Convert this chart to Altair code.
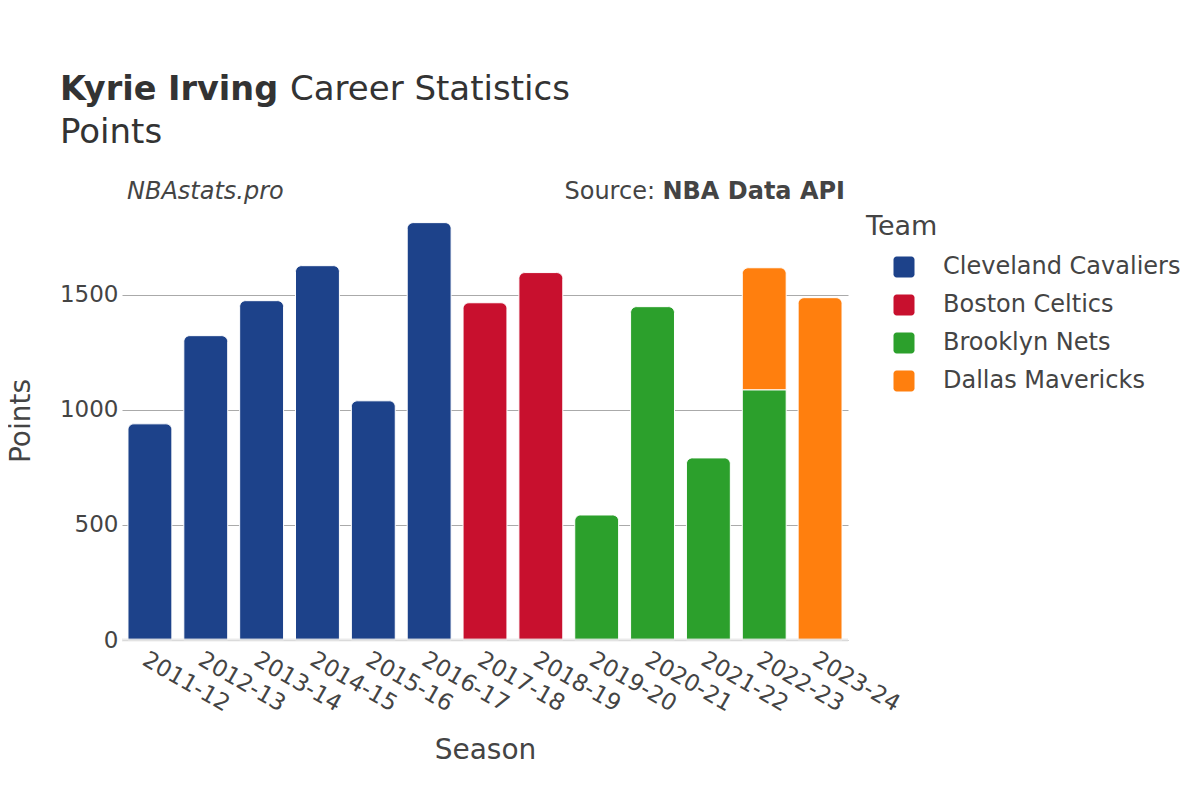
import altair as alt
import pandas as pd

seasons = ["2011-12", "2012-13", "2013-14", "2014-15", "2015-16", "2016-17", "2017-18",
           "2018-19", "2019-20", "2020-21", "2021-22", "2022-23", "2022-23", "2023-24"]
teams = ["Cleveland Cavaliers"] * 6 + ["Boston Celtics"] * 2 + ["Brooklyn Nets"] * 4 + ["Dallas Mavericks"] * 2
points = [939, 1322, 1474, 1626, 1039, 1813, 1465, 1596, 543, 1448, 791, 1087, 530, 1487]
stack_order = [0] * 12 + [1, 0]

team_names = ["Cleveland Cavaliers", "Boston Celtics", "Brooklyn Nets", "Dallas Mavericks"]
team_colors = ["#1d428a", "#c8102e", "#2ca02c", "#ff7f0e"]
season_order = sorted(set(seasons))

df = pd.DataFrame({"Season": seasons, "Team": teams, "Points": points, "order": stack_order})

W, H = 726, 439
FONT = "DejaVu Sans"
TXT = "#444444"

rounded = "M -0.7 -1 H 0.7 A 0.3 0.3 0 0 1 1 -0.7 V 0.7 A 0.3 0.3 0 0 1 0.7 1 H -0.7 A 0.3 0.3 0 0 1 -1 0.7 V -0.7 A 0.3 0.3 0 0 1 -0.7 -1 Z"

x_enc = alt.X("Season:N", sort=season_order, title="Season",
              scale=alt.Scale(paddingInner=0.214, paddingOuter=0.107),
              axis=alt.Axis(labelAngle=30, labelAlign="left", labelBaseline="top",
                            labelFontSize=23, labelColor=TXT, labelPadding=8,
                            ticks=False, domain=False, titleFontSize=28,
                            titleFontWeight="normal", titleColor=TXT, titlePadding=21))
y_scale = alt.Scale(domain=[0, 1907], nice=False)

base = alt.Chart(df).transform_stack(
    stack="Points", groupby=["Season"], as_=["y0", "y1"], sort=[alt.SortField("order")]
).transform_joinaggregate(maxorder="max(order)", groupby=["Season"])

color_enc = alt.Color("Team:N", scale=alt.Scale(domain=team_names, range=team_colors),
                      legend=alt.Legend(title="Team", orient="none", legendX=744, legendY=13,
                                        titleFontSize=27, titleFontWeight="normal", titleColor=TXT,
                                        labelFontSize=24, labelColor=TXT, labelLimit=0,
                                        symbolType=rounded,
                                        symbolSize=441, symbolStrokeWidth=0, symbolOpacity=1,
                                        symbolOffset=26, labelOffset=27, rowPadding=14,
                                        titlePadding=14))

bars_bottom = base.transform_filter("datum.order != datum.maxorder").mark_bar(
    stroke="white", strokeWidth=1
).encode(
    x=x_enc,
    y=alt.Y("y1:Q", scale=y_scale, title="Points",
            axis=alt.Axis(values=[0, 500, 1000, 1500], format="d", ticks=False, domain=False,
                          gridColor="#aaaaaa", labelFontSize=23, labelColor=TXT, labelPadding=4,
                          titleFontSize=28, titleFontWeight="normal", titleColor=TXT,
                          titlePadding=24)),
    y2="y0:Q",
    color=color_enc,
)

bars_top = base.transform_filter("datum.order == datum.maxorder").mark_bar(
    cornerRadiusTopLeft=6, cornerRadiusTopRight=6, stroke="white", strokeWidth=1
).encode(
    x=alt.X("Season:N", sort=season_order),
    y=alt.Y("y1:Q", scale=y_scale),
    y2="y0:Q",
    color=alt.Color("Team:N"),
)

zero = alt.Chart(pd.DataFrame({"z": [0]})).mark_rule(color="#e6e6e6", strokeWidth=3, opacity=0.8).encode(
    y=alt.Y("z:Q", scale=y_scale)
)

ann = pd.DataFrame({"k": [0]})

def txt(text, x, y, size, weight="normal", style="normal", align="left", baseline="alphabetic", color="#333333"):
    return alt.Chart(ann).mark_text(
        text=text, font=FONT, fontSize=size, fontWeight=weight, fontStyle=style,
        align=align, baseline=baseline, color=color
    ).encode(x=alt.value(x), y=alt.value(y))

t1 = txt("Kyrie Irving", -62, -101, 33.5, weight="bold")
t2 = txt("Career Statistics", 168, -101, 34)
t3 = txt("Points", -62, -58, 34)
t4 = txt("NBAstats.pro", 5, -9, 24, style="italic", baseline="middle", color=TXT)
t5 = txt("NBA Data API", 723, -9, 24, weight="bold", align="right", baseline="middle", color=TXT)
t6 = txt("Source:", 533, -9, 24, align="right", baseline="middle", color=TXT)

chart = alt.layer(bars_bottom, bars_top, zero, t1, t2, t3, t4, t5, t6).properties(
    width=W, height=H,
    autosize=alt.AutoSizeParams(type="none"),
    padding={"left": 114, "top": 193, "right": 344, "bottom": 152},
).resolve_scale(y="shared").configure(font=FONT).configure_view(strokeWidth=0, stroke="transparent")

chart.save("out.html", embed_options={"renderer": "svg", "actions": False})
